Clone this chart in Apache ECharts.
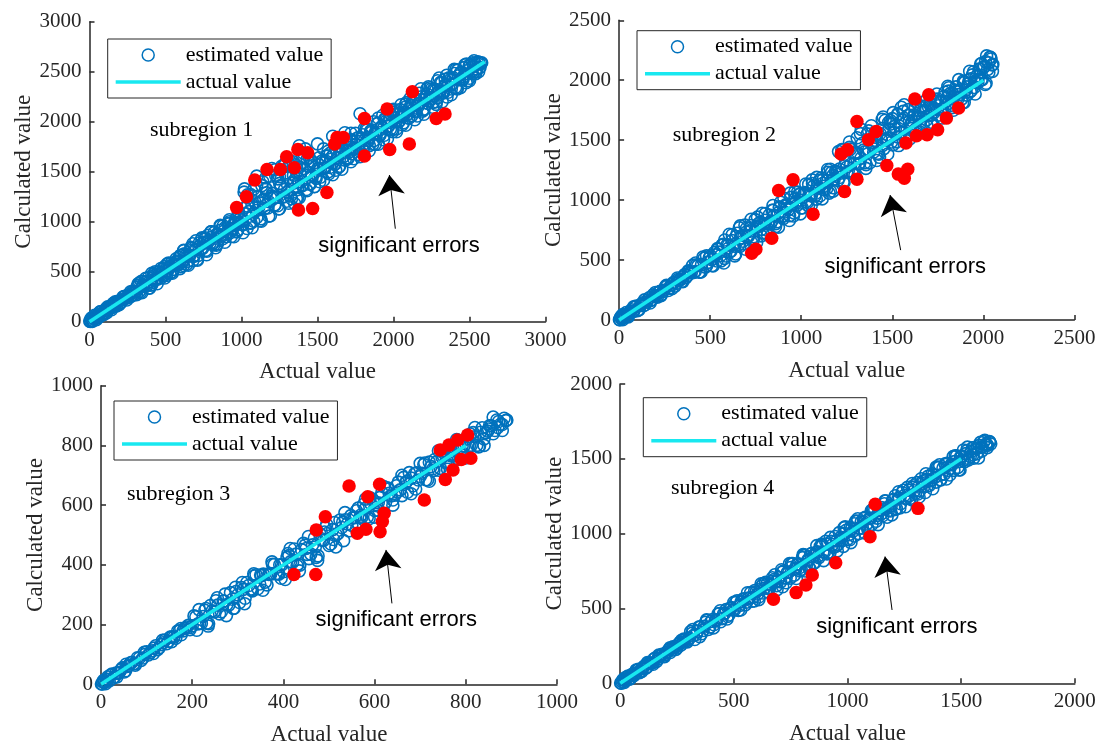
<!DOCTYPE html>
<html>
<head>
<meta charset="utf-8">
<title>estimated vs actual</title>
<script src="https://cdn.jsdelivr.net/npm/echarts@6/dist/echarts.min.js"></script>
<style>
  html, body { margin: 0; padding: 0; background: #fff; }
  #chart { width: 1101px; height: 744px; }
</style>
</head>
<body>
<div id="chart"></div>
<script>
// ---- data: [actual, calculated] pairs ----
const est1 = [[2,6],[8,4],[14,16],[22,12],[30,44],[38,33],[48,56],[58,40],[68,93],[78,66],[90,87],[102,114],[114,89],[126,131],[138,156],[150,142],[164,186],[178,158],[192,202],[206,191],[220,220],[234,255],[248,237],[262,268],[276,257],[290,304],
  [305,298],[320,363],[335,292],[350,366],[365,392],[380,362],[395,400],[410,369],[425,461],[440,431],[455,469],[470,438],[485,530],[500,477],[515,510],[530,553],[545,500],[560,569],[575,607],[590,576],
  [604,667],[618,562],[632,660],[646,604],[660,660],[674,734],[688,656],[702,720],[716,663],[730,769],[744,733],[758,825],[772,705],[786,811],[800,842],[814,786],[828,835],[842,779],[856,912],[870,856],[884,905],[898,849],[912,982],[926,891],[940,933],[954,989],[968,898],[982,996],[996,1045],
  [1010,971],[1023,1140],[1036,932],[1049,1101],[1062,984],[1075,1075],[1088,1199],[1101,1042],[1114,1147],[1127,1029],[1140,1212],[1153,1133],[1166,1290],[1179,1055],[1192,1238],[1205,1283],[1218,1166],[1231,1244],[1244,1127],[1257,1361],[1270,1244],[1283,1322],[1296,1205],[1309,1439],[1322,1257],[1335,1322],[1348,1413],[1361,1231],[1374,1400],[1387,1478],[1400,1361],[1413,1530],[1426,1322],[1439,1491],[1452,1374],[1465,1465],[1478,1589],[1491,1432],[1290,1590],[1320,1600],[1350,1180],[1380,1240],[1250,1450],
  [1505,1530],[1519,1444],[1533,1588],[1547,1532],[1561,1656],[1575,1480],[1589,1624],[1603,1663],[1617,1577],[1631,1641],[1645,1555],[1659,1739],[1673,1653],[1687,1717],[1701,1631],[1715,1815],[1729,1679],[1743,1733],[1757,1807],[1771,1671],[1785,1805],[1799,1869],[1813,1783],[1827,1917],[1841,1761],[1855,1895],[1869,1809],[1883,1883],[1897,1982],[1911,1866],[1925,1950],[1939,1864],[1953,2008],[1967,1952],[1981,2076],[1995,1900],
  [2009,2039],[2023,2074],[2037,2003],[2051,2060],[2065,1988],[2079,2147],[2093,2076],[2107,2133],[2121,2061],[2135,2220],[2149,2106],[2163,2154],[2177,2220],[2191,2106],[2205,2222],[2219,2279],[2233,2207],[2247,2324],[2261,2193],[2275,2309],[2289,2238],[2303,2303],[2317,2389],[2331,2293],[2345,2366],[2359,2295],[2373,2420],[2387,2374],[2401,2482],[2415,2334],[2429,2459],[2443,2494],[2457,2423],[2471,2480],[2485,2408],[2499,2567],[2513,2496],[2527,2553],[2541,2481],[2555,2598],[2569,2543],[2580,2589]];
const est1b = [[5,3],[11,34],[18,3],[26,36],[34,63],[43,34],[53,69],[63,66],[73,98],[84,67],[96,105],[108,128],[120,109],[132,146],[144,139],[157,185],[171,171],[185,203],[199,185],[213,219],[227,251],[241,237],[255,266],[269,250],[283,304],[297,301],
  [312,346],[327,301],[342,403],[357,358],[372,364],[387,439],[402,364],[417,439],[432,499],[447,424],[462,499],[477,481],[492,550],[507,463],[522,541],[537,583],[552,523],[567,598],[582,568],[597,661],
  [611,597],[625,678],[639,573],[653,663],[667,743],[681,653],[695,724],[709,624],[723,790],[737,737],[751,794],[765,713],[779,865],[793,784],[807,783],[821,893],[835,764],[849,873],[863,958],[877,830],[891,939],[905,900],[919,1000],[933,852],[947,966],[961,1023],[975,918],[989,1027],
  [1004,1010],[1017,1296],[1030,1078],[1043,1238],[1056,988],[1069,1170],[1082,1330],[1095,1112],[1108,1251],[1121,1011],[1134,1361],[1147,1227],[1160,1334],[1173,1137],[1186,1455],[1199,1258],[1212,1239],[1225,1462],[1238,1160],[1251,1383],[1264,1554],[1277,1251],[1290,1475],[1303,1372],[1316,1574],[1329,1230],[1342,1464],[1355,1571],[1368,1321],[1381,1545],[1394,1400],[1407,1686],[1420,1468],[1433,1628],[1446,1378],
  [1458,1464],[1472,1562],[1486,1444],[1500,1530],[1514,1400],[1528,1606],[1542,1536],[1556,1604],[1570,1498],[1584,1686],[1598,1580],[1612,1576],[1626,1710],[1640,1544],[1654,1678],[1668,1782],[1682,1616],[1696,1750],[1710,1698],[1724,1820],[1738,1630],[1752,1770],[1766,1838],[1780,1702],[1794,1836],[1808,1760],[1822,1930],[1836,1812],[1850,1910],[1864,1774],[1878,1884],[1892,1982],[1906,1864],[1920,1950],[1934,1820],[1948,2026],[1962,1956],[1976,2024],[1990,1918],
  [2002,2096],[2016,1999],[2030,1997],[2044,2121],[2058,1970],[2072,2094],[2086,2191],[2100,2039],[2114,2164],[2128,2117],[2142,2230],[2156,2057],[2170,2187],[2184,2250],[2198,2126],[2212,2251],[2226,2182],[2240,2339],[2254,2232],[2268,2323],[2282,2199],[2296,2302],[2310,2393],[2324,2285],[2338,2366],[2352,2247],[2366,2438],[2380,2374],[2394,2438],[2408,2342],[2422,2516],[2436,2419],[2450,2417],[2464,2541],[2478,2390],[2492,2514],[2506,2566],[2520,2480],[2534,2584],[2548,2528],[2562,2592],[2575,2585]];
const est1c = [[20,45],[45,20],[70,100],[95,73],[120,148],[145,119],[170,200],[195,171],[220,247],[245,217],[270,300],[295,269],
  [320,380],[345,290],[370,435],[395,335],[420,475],[445,380],[470,532],[495,437],[520,586],[545,485],[570,630],[595,531],
  [620,715],[650,565],[680,780],[710,615],[740,830],[770,670],[800,898],[830,740],[860,965],[890,795],[920,1020],[950,850],[980,1090],
  [1010,890],[1040,1270],[1070,940],[1100,1360],[1130,1005],[1160,1440],[1190,1060],[1220,1520],[1250,1130],[1280,1560],[1310,1185],[1340,1600],[1370,1240],[1400,1640],[1430,1310],[1445,1645],
  [1480,1350],[1510,1640],[1540,1415],[1570,1705],[1600,1470],[1630,1755],[1660,1525],[1690,1820],[1720,1600],[1750,1885],[1780,1650],[1810,1935],[1840,1710],[1870,2000],[1900,1775],[1930,2065],[1960,1830],[1990,2115],
  [2020,1900],[2050,2170],[2080,1965],[2110,2235],[2140,2020],[2170,2285],[2200,2075],[2230,2350],[2260,2145],[2290,2410],[2320,2200],[2350,2465],[2380,2270],[2410,2520],[2440,2340],[2470,2570],[2500,2410],[2530,2610],[2560,2500]];
const est1d = [[310,271],[330,389],[350,353],[370,401],[390,337],[410,483],[430,419],[450,495],[470,487],[490,465],[510,576],[530,484],[550,574],[570,566],[590,642],
  [600,550],[620,710],[640,650],[660,710],[680,610],[700,810],[720,750],[740,840],[760,840],[780,800],[800,900],[820,770],[840,880],[860,860],[880,960],[900,880],[920,980],[940,920],[960,980],[980,1100],
  [1000,972],[1020,1328],[1040,1156],[1060,1272],[1080,1004],[1100,1456],[1120,1188],[1140,1400],[1160,1324],[1180,1200],[1200,1532],[1220,1168],[1240,1428],[1260,1352],[1280,1564],[1300,1296],[1320,1556],[1340,1384],[1360,1500],[1380,1760],[1400,1372],[1420,1728],[1440,1556],
  [1460,1603],[1480,1352],[1500,1778],[1520,1528],[1540,1728],[1560,1658],[1580,1542],[1600,1855],[1620,1515],[1640,1760],[1660,1690],[1680,1890],[1700,1640],[1720,1885],[1740,1725],[1760,1835],[1780,2080],[1800,1717],
  [1820,1930],[1840,1842],[1860,1916],[1880,1773],[1900,2037],[1920,1894],[1940,2023],[1960,1989],[1980,1927],[2000,2123],[2020,1927],[2040,2082],[2060,2048],[2080,2176],[2100,2034],[2120,2189],[2140,2101],[2160,2175],[2180,2330],[2200,2120],[2220,2330],[2240,2242],[2260,2316],[2280,2173],[2300,2437],[2320,2294],[2340,2423],[2360,2389],[2380,2327],[2400,2523],[2420,2327],[2440,2482],[2460,2448],[2480,2576],[2500,2434],[2520,2589],[2540,2501],[2560,2575]];

const est2 = [[2,3],[8,20],[16,10],[24,21],[34,46],[44,30],[56,61],[68,86],[80,72],[94,116],[108,88],[122,132],[136,121],[150,150],[165,186],[180,169],[195,201],[210,191],[225,239],[240,236],[255,279],[270,246],[285,294],[300,315],[315,305],[330,333],[345,323],[360,380],[375,370],[390,398],
  [404,456],[418,405],[432,452],[446,400],[460,525],[474,441],[488,481],[502,535],[516,451],[530,543],[544,590],[558,538],[572,631],[586,534],[600,626],[614,575],[628,628],[642,697],[656,627],[670,686],[684,635],[698,734],[712,702],[726,788],[740,678],[754,777],[768,807],[782,756],[796,803],[810,751],[824,876],[838,825],[852,872],[866,820],[880,945],[894,861],[908,901],[922,955],[936,871],[950,963],[964,1010],[978,958],[992,1051],
  [1006,934],[1020,1056],[1034,980],[1048,1048],[1062,1139],[1076,1035],[1090,1113],[1104,1036],[1118,1168],[1132,1118],[1146,1232],[1160,1074],[1174,1206],[1188,1242],[1202,1166],[1216,1225],[1230,1149],[1244,1316],[1258,1240],[1272,1299],[1286,1223],[1300,1390],[1314,1299],[1328,1349],[1342,1417],[1356,1296],[1370,1418],[1384,1477],[1398,1401],[1412,1523],[1426,1384],[1440,1506],[1454,1430],[1468,1498],[1482,1589],[1496,1485],[1510,1563],[1524,1486],[1538,1618],[1552,1568],[1566,1682],[1580,1524],[1594,1656],[1500,1680],[1530,1720],[1560,1740],[1480,1650],[1450,1600],
  [1604,1636],[1616,1694],[1628,1593],[1640,1695],[1652,1745],[1664,1681],[1676,1784],[1688,1668],[1700,1770],[1712,1707],[1724,1764],[1736,1840],[1748,1754],[1760,1819],[1772,1756],[1784,1865],[1796,1825],[1808,1909],[1820,1789],[1832,1888],[1844,1919],[1856,1856],[1868,1906],[1880,1842],[1892,1982],[1904,1919],[1916,1969],[1928,1905],[1940,2045],[1952,1984],[1964,2036],[1976,2094],[1988,2003],[2000,2105],[2012,2155],[2024,2091],[2036,2194],[2048,2128]];
const est2b = [[5,2],[12,30],[20,2],[29,34],[39,63],[50,36],[62,73],[74,71],[87,107],[101,78],[115,119],[129,144],[143,127],[157,166],[172,162],[187,210],[202,197],[217,230],[232,213],[247,248],[262,281],[277,268],[292,298],[307,283],[322,338],[337,336],[352,362],[367,352],[382,403],[396,392],
  [411,396],[425,460],[439,399],[453,463],[467,515],[481,453],[495,518],[509,504],[523,563],[537,492],[551,566],[565,625],[579,514],[593,628],[607,567],[621,711],[635,615],[649,724],[663,613],[677,707],[691,791],[705,695],[719,769],[733,663],[747,837],[761,781],[775,815],[789,729],
  [803,888],[817,802],[831,801],[845,915],[859,779],[873,893],[887,982],[901,846],[915,960],[929,919],[943,1023],[957,867],[971,986],[985,1045],[999,934],[1013,1048],[1027,987],[1041,1131],[1055,1035],[1069,1119],[1083,1008],[1097,1102],[1111,1186],[1125,1090],[1139,1164],[1153,1058],[1167,1232],[1181,1176],[1195,1235],
  [1209,1189],[1223,1421],[1237,1285],[1251,1276],[1265,1440],[1279,1229],[1293,1393],[1307,1520],[1321,1308],[1335,1473],[1349,1404],[1363,1553],[1377,1312],[1391,1484],[1405,1565],[1419,1391],[1433,1556],[1447,1457],[1461,1666],[1475,1515],[1489,1634],[1503,1460],[1517,1595],[1531,1714],[1545,1563],[1559,1667],[1573,1500],[1587,1755],
  [1610,1600],[1622,1712],[1634,1574],[1646,1686],[1658,1773],[1670,1635],[1682,1747],[1694,1704],[1706,1806],[1718,1648],[1730,1765],[1742,1822],[1754,1709],[1766,1821],[1778,1758],[1790,1900],[1802,1802],[1814,1884],[1826,1771],[1838,1863],[1850,1945],[1862,1847],[1874,1919],[1886,1811],[1898,1983],[1910,1945],[1922,2002],[1934,1914],[1946,2071],[1958,1983],[1970,1980],[1982,2092],[1994,2004],[2006,2116],[2018,2203],[2030,2065],[2042,2177],[2052,2132]];
const est2c = [[20,45],[50,25],[80,110],[110,85],[140,168],[170,142],[200,230],[230,203],[260,290],[290,262],[320,350],[350,320],[380,410],
  [420,475],[450,400],[480,535],[510,455],[540,595],
  [575,475],[605,715],[635,535],[665,785],[695,590],[725,840],[755,645],[785,890],[815,710],[845,955],[875,775],[905,1015],[935,830],[965,1070],[995,885],[1025,1135],[1055,955],[1085,1190],[1115,1010],[1145,1255],[1175,1075],
  [1205,1405],[1235,1145],[1265,1485],[1295,1210],[1325,1555],[1355,1265],[1385,1620],[1415,1330],[1445,1675],[1475,1385],[1505,1730],[1535,1455],[1565,1795],[1595,1510],
  [1625,1775],[1655,1565],[1685,1830],[1715,1630],[1745,1885],[1775,1685],[1805,1950],[1835,1750],[1865,2005],[1895,1815],[1925,2075],[1955,1885],[1985,2135],[2015,1975],[2040,2190]];
const est2d = [[560,493],[580,667],[600,599],[620,663],[640,551],[660,769],[680,657],[700,765],[720,741],[740,695],[760,858],[780,702],[800,832],[820,808],[840,916],[860,804],[880,934],[900,866],[920,930],[940,1060],[960,893],[980,1067],[1000,999],[1020,1063],[1040,951],[1060,1169],[1080,1057],[1100,1165],[1120,1141],[1140,1095],[1160,1258],[1180,1102],[1200,1232],
  [1210,1260],[1230,1420],[1250,1230],[1270,1425],[1290,1305],[1310,1395],[1330,1590],[1350,1312],[1370,1578],[1390,1458],[1410,1548],[1430,1357],[1450,1693],[1470,1503],[1490,1663],[1510,1613],[1530,1527],[1550,1775],[1570,1515],[1590,1710],[1610,1660],[1630,1820],[1650,1630],
  [1670,1740],[1690,1621],[1710,1849],[1730,1731],[1750,1843],[1770,1817],[1790,1767],[1810,1937],[1830,1773],[1850,1908],[1870,1882],[1890,1994],[1910,1876],[1930,2011],[1950,1939],[1970,2005],[1990,2140],[2010,1964],[2030,2146],[2050,2074]];

const est3 = [[1,1],[4,8],[8,6],[13,16],[18,11],[24,34],[30,25],[37,36],[44,49],[51,41],[58,60],[65,72],[72,69],[80,89],[88,80],[96,100],[104,98],[112,112],[120,129],[128,123],[136,139],[144,136],[152,158],[160,158],[168,178],[176,166],[184,188],[192,198],[200,196],
  [208,226],[216,204],[224,227],[232,205],[240,264],[248,242],[256,265],[264,243],[272,302],[280,265],[288,285],[296,311],[304,274],[312,318],[320,341],[328,319],[336,363],[344,320],[352,364],[360,342],[368,368],[376,402],[384,370],[392,400],[400,377],[408,425],[416,411],[424,453],[432,403],[440,451],
  [448,466],[456,421],[464,467],[472,425],[480,504],[488,482],[496,505],[504,470],[512,542],[520,505],[528,525],[536,551],[544,514],[552,558],[560,581],[568,559],[576,603],[584,560],[592,604],[600,582],[608,608],[616,642],[624,610],[632,640],[640,617],[648,665],[656,651],[664,693],[672,643],[680,691],
  [688,706],[696,684],[704,707],[712,685],[720,744],[728,722],[736,745],[744,723],[752,782],[760,745],[768,765],[776,791],[784,754],[792,798],[800,821],[808,799],[816,843],[824,800],[832,844],[840,822],[848,848],[856,866],[864,850],[872,880],[880,870],[888,883]];
const est3b = [[3,1],[6,13],[10,2],[15,17],[21,31],[27,21],[33,38],[40,39],[47,55],[54,45],[61,63],[68,74],[76,69],[84,88],[92,88],[100,109],[108,106],[116,121],[124,116],[132,133],[140,148],[148,144],[156,159],[164,154],[172,179],[180,179],[188,192],[196,190],
  [204,229],[212,202],[220,204],[228,248],[236,203],[244,246],[252,280],[260,236],[268,279],[276,267],[284,307],[292,255],[300,300],[308,324],[316,288],[324,331],[332,313],[340,367],[348,336],[356,369],[364,333],[372,369],[380,401],[388,371],[396,400],
  [404,351],[412,431],[420,408],[428,436],[436,399],[444,472],[452,435],[460,436],[468,490],[476,430],[484,483],[492,525],[500,465],[508,518],[516,501],[524,550],[532,481],[540,537],[548,565],
  [556,558],[564,590],[572,560],[580,589],[588,555],[596,619],[604,602],[612,626],[620,599],[628,658],[636,631],[644,633],[652,677],[660,632],[668,675],[676,709],[684,665],[692,708],[700,696],[708,736],[716,684],[724,729],[732,753],[740,717],[748,760],[756,742],[764,796],[772,765],[780,798],[788,762],[796,798],[804,830],[812,800],[820,829],[828,795],[836,859],[844,842],[852,866],[860,839],[868,885],[876,871],[884,891]];
const est3c = [[15,25],[35,25],[55,67],[75,64],[95,107],[115,103],[135,147],[155,143],[175,187],[195,183],
  [215,250],[235,195],[255,290],[275,230],[295,325],[315,270],[335,370],[355,315],[375,410],[395,355],
  [415,455],[435,380],[455,495],[475,415],[495,535],[515,460],[535,575],
  [560,520],[580,620],[600,560],[620,662],[640,600],[660,700],[680,638],[700,740],[720,680],[740,782],[760,720],[780,820],[800,758],[820,860],[840,800],[860,895],[880,850]];
const est3d = [[210,181],[230,254],[250,244],[270,279],[290,254],[310,341],[330,316],[350,366],[370,371],[390,369],[410,438],[430,397],[450,455],[470,460],[490,510],[510,485],[530,543],[550,532],[570,567],[590,625],[610,581],[630,654],[650,644],[670,679],[690,654],[710,741],[730,716],[750,766],[770,771],[790,769],[810,838],[830,797],[850,855],[870,860],[890,885]];

const est4 = [[2,2],[8,11],[15,26],[22,17],[30,44],[40,28],[50,56],[60,51],[70,70],[80,93],[90,83],[100,104],[112,101],[124,132],[136,134],[148,162],[160,146],[172,177],[184,193],[196,190],[208,210],[220,206],[232,244],[244,241],[256,261],[268,257],[280,295],[292,284],
  [304,300],[316,334],[328,293],[340,347],[352,377],[364,353],[376,408],[388,360],[400,414],[412,391],[424,424],[436,466],[448,432],[460,469],[472,446],[484,503],[496,491],[508,541],[520,487],[532,544],[544,565],[556,542],[568,572],[580,548],[592,620],[604,597],[616,627],[628,603],[640,675],[652,634],[664,660],[676,694],[688,653],[700,707],
  [712,742],[724,704],[736,741],[748,703],[760,800],[772,762],[784,799],[796,761],[808,858],[820,795],[832,827],[844,869],[856,806],[868,878],[880,915],[892,877],[904,949],[916,876],[928,948],[940,910],[952,952],[964,1007],[976,953],[988,1001],[1000,962],[1012,1040],[1024,1016],[1036,1084],[1048,1000],[1060,1078],
  [1072,1102],[1084,1064],[1096,1101],[1108,1063],[1120,1160],[1132,1122],[1144,1159],[1156,1121],[1168,1218],[1180,1155],[1192,1187],[1204,1229],[1216,1166],[1228,1238],[1240,1275],[1252,1237],[1264,1309],[1276,1236],[1288,1308],[1300,1270],[1312,1312],[1324,1367],[1336,1313],[1348,1361],[1360,1322],[1372,1400],[1384,1376],[1396,1444],[1408,1360],[1420,1438],
  [1432,1462],[1444,1424],[1456,1461],[1468,1423],[1480,1520],[1492,1482],[1504,1519],[1516,1481],[1528,1578],[1540,1515],[1552,1527],[1564,1569],[1576,1506],[1588,1578],[1600,1615],[1612,1590],[1624,1615],[1630,1600]];
const est4b = [[5,1],[11,22],[18,6],[26,29],[35,49],[45,37],[55,62],[65,63],[75,87],[85,71],[95,97],[106,115],[118,108],[130,135],[142,136],[154,168],[166,163],[178,186],[190,179],[202,203],[214,225],[226,221],[238,242],[250,236],[262,272],[274,273],[286,292],[298,289],
  [310,345],[322,319],[334,326],[346,376],[358,331],[370,381],[382,421],[394,376],[406,426],[418,417],[430,463],[442,411],[454,463],[466,492],[478,456],[490,506],[502,490],[514,551],[526,521],[538,560],[550,524],[562,567],[574,606],[586,576],[598,611],[610,577],[622,650],[634,635],[646,664],[658,638],[670,705],[682,679],[694,686],
  [706,678],[718,750],[730,672],[742,744],[754,801],[766,723],[778,795],[790,774],[802,840],[814,750],[826,825],[838,864],[850,801],[862,873],[874,840],[886,930],[898,876],[910,930],[922,867],[934,927],[946,981],[958,927],[970,975],[982,915],[994,1023],[1006,993],[1018,1032],[1030,984],[1042,1083],[1054,1035],
  [1066,1038],[1078,1110],[1090,1032],[1102,1104],[1114,1161],[1126,1083],[1138,1155],[1150,1134],[1162,1200],[1174,1110],[1186,1185],[1198,1224],[1210,1161],[1222,1233],[1234,1200],[1246,1290],[1258,1236],[1270,1290],[1282,1227],[1294,1287],[1306,1341],[1318,1287],[1330,1335],[1342,1275],[1354,1383],[1366,1353],[1378,1392],[1390,1344],[1402,1443],[1414,1395],
  [1426,1398],[1438,1470],[1450,1392],[1462,1464],[1474,1521],[1486,1443],[1498,1515],[1508,1488],[1520,1535],[1532,1492],[1544,1549],[1556,1576],[1568,1533],[1580,1590],[1592,1577],[1604,1624],[1616,1591],[1626,1612]];
const est4c = [[20,35],[45,30],[70,88],[95,79],[120,138],[145,127],[170,188],[195,178],[220,238],[245,227],[270,288],[295,277],
  [320,360],[350,312],[380,425],[410,370],[440,485],[470,430],[500,542],[530,490],[560,605],[590,550],[620,665],[650,610],[680,725],
  [715,645],[745,800],[775,700],[805,860],[835,765],[865,920],[895,820],[925,975],[955,885],[985,1040],[1015,940],[1045,1100],[1075,1005],[1105,1155],[1135,1060],[1165,1220],[1195,1125],[1225,1280],[1255,1180],[1285,1335],[1315,1245],[1345,1400],[1375,1300],[1405,1460],[1435,1365],[1465,1515],[1495,1425],
  [1525,1555],[1555,1505],[1585,1610],[1615,1575]];
const est4d = [[610,559],[630,666],[650,636],[670,681],[690,626],[710,759],[730,704],[750,774],[770,769],[790,751],[810,853],[830,772],[850,855],[870,850],[890,920],[910,865],[930,948],[950,917],[970,962],[990,1045],
  [1010,959],[1030,1066],[1050,1036],[1070,1081],[1090,1026],[1110,1159],[1130,1104],[1150,1174],[1170,1169],[1190,1151],[1210,1253],[1230,1172],[1250,1255],[1270,1250],[1290,1320],[1310,1265],[1330,1348],[1350,1317],[1370,1362],[1390,1445],
  [1410,1359],[1430,1466],[1450,1436],[1470,1481],[1490,1426],[1510,1559],[1530,1504],[1550,1574],[1570,1569],[1590,1551],[1610,1600]];

const red1 = [[968,1143],[1032,1250],[1087,1417],[1168,1523],[1256,1523],[1297,1650],[1348,1540],[1371,1723],[1435,1690],[1375,1117],[1468,1133],[1562,1293],[1613,1777],[1629,1843],[1670,1843],[1809,2033],[1809,1657],[1958,2127],[1975,1723],[2104,1777],[2124,2300],[2281,2033],[2339,2077]];
const red2 = [[728,557],[751,590],[838,682],[876,1080],[955,1169],[1065,883],[1219,1384],[1254,1420],[1238,1072],[1306,1656],[1306,1175],[1369,1503],[1412,1573],[1470,1289],[1533,1217],[1566,1183],[1585,1258],[1575,1476],[1633,1537],[1624,1843],[1691,1545],[1700,1879],[1749,1587],[1797,1684],[1864,1768]];
const red3 = [[423,368],[471,368],[472,517],[492,561],[544,664],[562,506],[581,519],[585,628],[611,670],[612,511],[617,545],[621,573],[709,617],[744,785],[755,686],[763,801],[772,718],[782,818],[790,753],[804,835],[811,757]];
const red4 = [[674,561],[774,606],[817,657],[845,724],[948,806],[1099,980],[1122,1196],[1310,1169]];

const lineEnds = [2600, 2000, 800, 1500];        // extent of the "actual value" diagonal
const axisMax = [3000, 2500, 1000, 2000];
const axisStep = [500, 500, 200, 500];
const subregionNames = ['subregion 1', 'subregion 2', 'subregion 3', 'subregion 4'];

// arrow tail / head, in each panel's data space
const arrows = [
  [[2012, 930], [1973, 1467]],
  [[1546, 583], [1488, 1042]],
  [[638, 271], [625, 450]],
  [[1196, 490], [1165, 847]]
];

// ---- layout (pixels) ----
const grids = [
  { left: 89.5, top: 21.7, width: 456, height: 300 },
  { left: 619.1, top: 20.3, width: 455.3, height: 299.7 },
  { left: 101, top: 385.7, width: 456, height: 298.6 },
  { left: 620.2, top: 384, width: 454.6, height: 299.3 }
];
const legendPos = [[107.7, 39], [637, 30.7], [114, 401], [643.3, 397.7]];
const subregionPos = [[150, 130], [672.8, 135], [127, 494], [671, 488.3]];
const notePos = [[399, 245.7], [905.3, 266.7], [396.3, 620], [896.9, 627.3]];

const estAll = [est1.concat(est1b, est1c, est1d), est2.concat(est2b, est2c, est2d),
                est3.concat(est3b, est3c, est3d), est4.concat(est4b, est4c, est4d)];
const redAll = [red1, red2, red3, red4];

const serif = 'Liberation Serif';
const sans = 'Liberation Sans';
const axisColor = '#262626';
const blue = '#0072BD';
const cyan = '#18E8F0';

const chart = echarts.init(document.getElementById('chart'));

const option = {
  animation: false,
  backgroundColor: '#fff',
  grid: [], xAxis: [], yAxis: [], legend: [], series: [], graphic: []
};

for (let i = 0; i < 4; i++) {
  option.grid.push(Object.assign({ containLabel: false, outerBoundsMode: 'none' }, grids[i]));

  const axisBase = {
    type: 'value', gridIndex: i, min: 0, max: axisMax[i], interval: axisStep[i],
    axisLine: { show: true, onZero: false, lineStyle: { color: axisColor, width: 1.5 } },
    axisTick: { show: true, inside: true, length: 5, lineStyle: { color: axisColor, width: 1.5 } },
    splitLine: { show: false },
    axisLabel: { color: axisColor, fontFamily: serif, fontSize: 21, margin: 8,
                 formatter: function (v) { return String(v); },
                 showMinLabel: true, showMaxLabel: true, hideOverlap: false },
    nameLocation: 'middle',
    nameTextStyle: { color: axisColor, fontFamily: serif, fontSize: 23 }
  };
  option.xAxis.push(Object.assign({}, axisBase, { name: 'Actual value', nameGap: 39 }));
  option.yAxis.push(Object.assign({}, axisBase, { name: 'Calculated value', nameGap: 51 }));

  option.legend.push({
    orient: 'vertical', left: legendPos[i][0], top: legendPos[i][1],
    padding: [5, 8, 5, 8], itemGap: 5, itemWidth: 65, itemHeight: 12,
    borderColor: axisColor, borderWidth: 1, backgroundColor: '#fff',
    selectedMode: false,
    textStyle: { color: '#000', fontFamily: serif, fontSize: 22 },
    data: [
      { name: 'estimated value', icon: 'circle',
        itemStyle: { color: 'rgba(0,0,0,0)', borderColor: blue, borderWidth: 1.5, opacity: 1 } },
      { name: 'actual value', icon: 'path://M0,0L65,0L65,3.5L0,3.5Z',
        itemStyle: { color: cyan, borderWidth: 0, opacity: 1 } }
    ]
  });

  option.series.push({
    type: 'scatter', name: 'estimated value', xAxisIndex: i, yAxisIndex: i,
    data: estAll[i], symbol: 'circle', symbolSize: 12, silent: true, z: 2,
    itemStyle: { color: 'rgba(0,0,0,0)', borderColor: blue, borderWidth: 1.6, opacity: 1 }
  });
  option.series.push({
    type: 'line', name: 'actual value', xAxisIndex: i, yAxisIndex: i,
    data: [[0, 0], [lineEnds[i], lineEnds[i]]], symbol: 'none', silent: true, z: 3,
    lineStyle: { color: cyan, width: 3.5 }, itemStyle: { color: cyan }
  });
  option.series.push({
    type: 'scatter', name: 'significant errors', xAxisIndex: i, yAxisIndex: i,
    data: redAll[i], symbol: 'circle', symbolSize: 13.5, silent: true, z: 4,
    itemStyle: { color: '#ff0000', opacity: 1 },
    markLine: {
      silent: true, symbol: ['none', 'arrow'], symbolSize: 20,
      lineStyle: { color: '#000', width: 1, type: 'solid' },
      label: { show: false },
      emphasis: { disabled: true },
      data: [[{ coord: arrows[i][0] }, { coord: arrows[i][1] }]]
    }
  });

  option.graphic.push({
    type: 'text', x: subregionPos[i][0], y: subregionPos[i][1], silent: true,
    style: { text: subregionNames[i], font: '22px "' + serif + '"', fill: '#000',
             align: 'left', verticalAlign: 'middle' }
  });
  option.graphic.push({
    type: 'text', x: notePos[i][0], y: notePos[i][1], silent: true,
    style: { text: 'significant errors', font: '22px "' + sans + '"', fill: '#000',
             align: 'center', verticalAlign: 'middle' }
  });
}

chart.setOption(option);
</script>
</body>
</html>
